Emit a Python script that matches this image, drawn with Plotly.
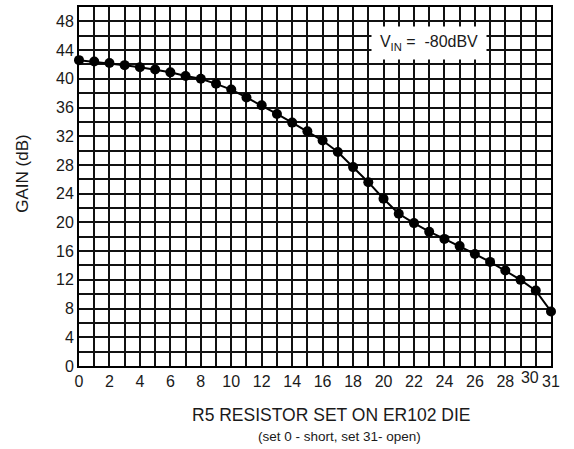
import plotly.graph_objects as go

resistor_set = list(range(0, 32))
gain_db = [42.6, 42.4, 42.2, 41.9, 41.6, 41.3, 40.9, 40.4, 40.0, 39.3,
           38.5, 37.4, 36.3, 35.1, 33.9, 32.7, 31.4, 29.8, 27.7, 25.6,
           23.3, 21.2, 19.9, 18.7, 17.7, 16.7, 15.6, 14.5, 13.3, 12.0,
           10.5, 7.6]

x_tick_vals = [0, 2, 4, 6, 8, 10, 12, 14, 16, 18, 20, 22, 24, 26, 28, 31]
x_tick_vals_shifted = [30]
y_tick_vals = [0, 4, 8, 12, 16, 20, 24, 28, 32, 36, 40, 44, 48]

FONT = "Liberation Sans, Arial, sans-serif"
INK = "#1a1a1a"

fig = go.Figure()
fig.add_trace(go.Scatter(
    x=resistor_set, y=gain_db, mode="lines+markers",
    line=dict(color="black", width=2),
    marker=dict(color="black", size=10),
    cliponaxis=False, showlegend=False, hoverinfo="skip",
))
# empty helper trace so the overlay axis carrying the "30" label is drawn
fig.add_trace(go.Scatter(
    x=x_tick_vals_shifted, y=[None], xaxis="x2", yaxis="y", mode="markers",
    marker=dict(opacity=0), showlegend=False, hoverinfo="skip",
))

fig.update_xaxes(
    range=[0, 31], tickvals=x_tick_vals,
    ticks="", ticklen=0, zeroline=False, tickangle=0,
    showline=True, linecolor="black", linewidth=2, mirror=True, automargin=False,
    tickfont=dict(family=FONT, size=16, color=INK),
    showgrid=True, gridcolor="#111", gridwidth=1.6,
    minor=dict(dtick=1, showgrid=True, gridcolor="#111", gridwidth=1.6),
)
fig.update_yaxes(
    range=[0, 50], tickvals=y_tick_vals, ticks="", ticklen=0, zeroline=False,
    showline=True, linecolor="black", linewidth=2, mirror=True, automargin=False,
    tickfont=dict(family=FONT, size=16, color=INK), ticklabelstandoff=0,
    showgrid=True, gridcolor="#111", gridwidth=1.6,
    minor=dict(dtick=2, showgrid=True, gridcolor="#111", gridwidth=1.6),
)
fig.update_layout(xaxis2=dict(
    overlaying="x", anchor="y", side="bottom",
    range=[0, 31], tickvals=x_tick_vals_shifted, ticklabelshift=-6,
    ticks="", ticklen=0, tickangle=0, showgrid=False, zeroline=False,
    showline=False, automargin=False,
    tickfont=dict(family=FONT, size=16, color=INK),
))

fig.add_annotation(
    x=23.0, y=45.0, xref="x", yref="y",
    text="V<sub>IN</sub> =  -80dBV", showarrow=False,
    font=dict(family=FONT, size=16, color=INK),
    bgcolor="white", width=112, height=30,
)
fig.add_annotation(
    x=-0.119, y=0.535, xref="paper", yref="paper", textangle=-90,
    xanchor="center", yanchor="middle",
    text="GAIN (dB)", showarrow=False,
    font=dict(family=FONT, size=17, color=INK),
)
fig.add_annotation(
    x=0.534, y=-0.1365, xref="paper", yref="paper", yanchor="middle",
    text="R5 RESISTOR SET ON ER102 DIE", showarrow=False,
    font=dict(family=FONT, size=17.5, color=INK),
)
fig.add_annotation(
    x=0.551, y=-0.195, xref="paper", yref="paper", yanchor="middle",
    text="(set 0 - short, set 31- open)", showarrow=False,
    font=dict(family=FONT, size=13.5, color=INK),
)

fig.update_layout(
    width=574, height=449,
    margin=dict(l=79, r=23, t=7, b=83),
    paper_bgcolor="white", plot_bgcolor="white",
)
fig.write_html("out.html", config={"displayModeBar": False},
               post_script="document.body.style.margin='0';")
